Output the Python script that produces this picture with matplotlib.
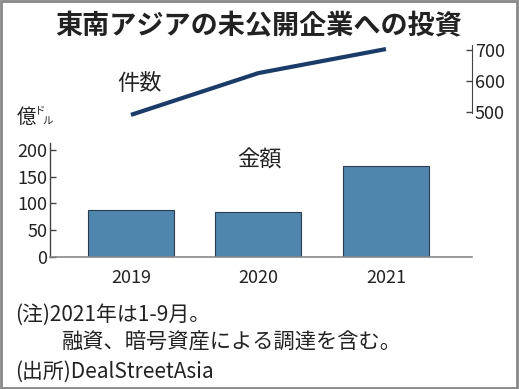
import matplotlib
matplotlib.use("Agg")
import matplotlib.pyplot as plt
from matplotlib.patches import Rectangle

plt.rcParams['font.family'] = ['Noto Sans CJK JP', 'DejaVu Sans']

# data
years = ["2019", "2020", "2021"]
amount = [87, 84, 170]        # 金額 (億ドル)
deals = [492, 626, 703]       # 件数
amount_ticks = [0, 50, 100, 150, 200]
deal_ticks = [500, 600, 700]

W, H = 519, 389
BAR_COLOR = "#4f86ad"
LINE_COLOR = "#1b3c68"
TEXT = "#222222"


def fx(px):
    return px / W


def fy(py):
    return 1 - py / H


fig = plt.figure(figsize=(W / 100, H / 100), dpi=100)

# bar chart (amount)
ax = fig.add_axes([fx(50), fy(256.5), fx(472 - 50), (256.5 - 143) / H])
x = range(len(years))
ax.bar(x, amount, width=0.675, color=BAR_COLOR, edgecolor="#2b3b4b", linewidth=0.8)
ax.set_xlim(-0.635, 2.675)
ax.set_ylim(0, 213)
ax.set_yticks(amount_ticks)
ax.set_xticks(list(x))
ax.set_xticklabels(years)
for s in ["top", "right"]:
    ax.spines[s].set_visible(False)
ax.spines["left"].set_color("#444444")
ax.spines["bottom"].set_color("#888888")
ax.spines["left"].set_linewidth(1.0)
ax.spines["bottom"].set_linewidth(1.2)
ax.tick_params(axis="y", direction="in", length=4, width=1, color="#444444",
               labelsize=13, labelcolor=TEXT, pad=2)
ax.tick_params(axis="x", length=0, labelsize=13, labelcolor=TEXT, pad=9)

# line chart (deal count)
lx = fig.add_axes([fx(50), fy(113), fx(472 - 50), (113 - 45) / H])
lx.plot(list(x), deals, color=LINE_COLOR, linewidth=3, clip_on=False,
        solid_capstyle="butt")
lx.set_xlim(-0.635, 2.675)
lx.set_ylim(498, 716)
lx.patch.set_visible(False)
for s in ["top", "left", "bottom"]:
    lx.spines[s].set_visible(False)
lx.spines["right"].set_color("#444444")
lx.yaxis.tick_right()
lx.set_yticks(deal_ticks)
lx.set_xticks([])
lx.tick_params(axis="y", direction="in", length=4, width=1, color="#444444",
               labelsize=13, labelcolor=TEXT, pad=2)

# texts
fig.text(fx(259), fy(26), "東南アジアの未公開企業への投資", ha="center", va="center",
         fontsize=19.5, fontweight="bold", color=TEXT)
fig.text(fx(140), fy(84), "件数", ha="center", va="center", fontsize=16, color=TEXT)
fig.text(fx(259), fy(160), "金額", ha="center", va="center", fontsize=16, color=TEXT)
fig.text(fx(17), fy(117), "億", ha="left", va="center", fontsize=14, color=TEXT)
fig.text(fx(35), fy(111), "ド", ha="left", va="center", fontsize=7.5, color=TEXT)
fig.text(fx(42), fy(122), "ル", ha="left", va="center", fontsize=7.5, color=TEXT)

fig.text(fx(15), fy(315), "(注)2021年は1-9月。", ha="left", va="center",
         fontsize=15, color=TEXT)
fig.text(fx(62), fy(343), "融資、暗号資産による調達を含む。", ha="left", va="center",
         fontsize=15.3, color=TEXT)
fig.text(fx(15), fy(372), "(出所)DealStreetAsia", ha="left", va="center",
         fontsize=15, color=TEXT)

# frame
fig.patches.append(Rectangle((0.002, 0.003), 0.995, 0.995, transform=fig.transFigure,
                             fill=False, edgecolor="#888888", linewidth=2))

fig.savefig("out.png", dpi=100)
